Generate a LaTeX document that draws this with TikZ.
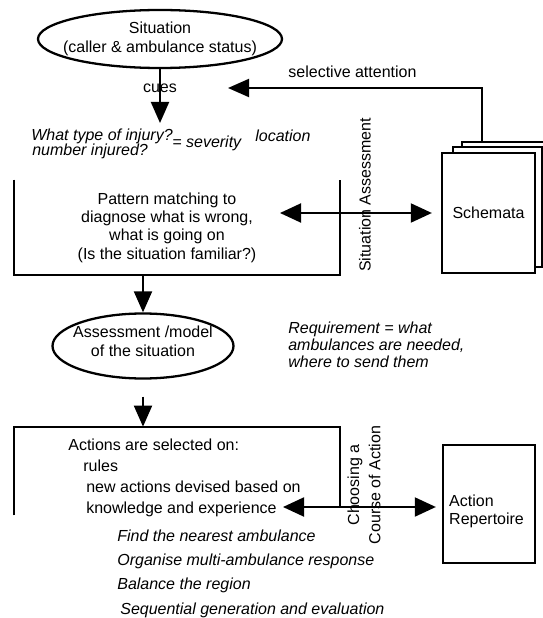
\documentclass[tikz,border=0pt]{standalone}
\usepackage{fontspec}
\setmainfont{Liberation Sans}
\usepackage{tikz}
\usetikzlibrary{arrows.meta,positioning,shapes.geometric,calc}

\begin{document}
\begin{tikzpicture}[
  font=\fontsize{9.1}{10.4}\selectfont,
  oval/.style={ellipse,draw,line width=1.3pt,inner sep=0pt},
  openbox/.style={rectangle,inner sep=0pt},
  page/.style={rectangle,draw,line width=1.3pt,fill=white,minimum width=1.86cm,minimum height=2.4cm},
  cue/.style={font=\fontsize{9.1}{9.6}\selectfont\itshape,anchor=west,align=left,inner sep=0pt},
  vlabel/.style={rotate=90,align=center,inner sep=0pt},
  edge/.style={line width=1.3pt},
  arrow/.style={-{Triangle[length=0.42cm,width=0.36cm]},line width=1.1pt},
  biarrow/.style={{Triangle[length=0.42cm,width=0.38cm]}-{Triangle[length=0.42cm,width=0.38cm]},line width=1.1pt}
]
\useasboundingbox (0,0) rectangle (10.86,-12.36);

% situation and cues
\node[oval,minimum width=4.88cm,minimum height=1.16cm,label={[align=center]center:Situation\\(caller \& ambulance status)}] (sit) at (3.2,-0.78) {};
\coordinate (cuetip) at (3.2,-2.46);
\draw[arrow] (sit.south) -- node[pos=0.36,inner sep=0pt] {cues} (cuetip);
\node[cue] (qtype) at (0.62,-2.72) {What type of injury?};
\node[cue] (qnum) at (0.64,-3.02) {number injured?};
\node[cue] (qsev) at (3.44,-2.86) {= severity};
\node[cue] (qloc) at (5.1,-2.72) {location};

% pattern matching
\node[openbox,minimum width=6.52cm,minimum height=1.9cm,label={[align=center,xshift=-0.2cm]center:Pattern matching to\\diagnose what is wrong,\\what is going on\\(Is the situation familiar?)}] (patt) at (3.54,-4.55) {};
\draw[edge] (patt.north west) |- (patt.south east) -- (patt.north east);

% schemata stack
\node[page,minimum width=1.76cm] (schc) at (10.12,-4.04) {};
\node[page,minimum width=1.78cm] (schb) at (9.95,-4.14) {};
\node[page] (sch) at (9.77,-4.26) {Schemata};
\coordinate (attncorner) at (9.64,-1.76);
\coordinate (attn) at (4.56,-1.76);
\draw[arrow] (schc.north -| attncorner) -- (attncorner) -- node[above=2pt,pos=0.51] {selective attention} (attn);
\coordinate (saend) at (5.6,-4.26);
\draw[biarrow,shorten >=0.18cm] (saend) -- (sch.west);
\node[vlabel] (salab) at (7.3,-3.9) {Situation Assessment};

% assessment
\node[oval,minimum width=3.62cm,minimum height=1.3cm,label={[align=center,yshift=0.1cm,font=\fontsize{9.1}{11}\selectfont]center:Assessment /model\\of the situation}] (assess) at (2.86,-6.92) {};
\draw[arrow] (patt.south -| assess.north) -- (assess.north);
\node[cue] (req) at (5.76,-6.9) {Requirement = what\\ambulances are needed,\\where to send them};

% choosing a course of action
\node[openbox,minimum width=6.52cm,minimum height=1.76cm] (act) at (3.54,-9.42) {};
\draw[arrow,shorten <=0.34cm] (assess.south) -- (act.north -| assess.south);
\node[anchor=north west,align=left,inner sep=0pt,font=\fontsize{9.1}{11.9}\selectfont] (acttxt) at (1.36,-8.77) {Actions are selected on:\\\hspace*{0.3cm}rules\\\hspace*{0.36cm}new actions devised based on\\\hspace*{0.36cm}knowledge and experience};
\node[cue,anchor=north west,font=\fontsize{9.1}{13.8}\selectfont\itshape] (strat) at (2.34,-10.59) {Find the nearest ambulance\\Organise multi-ambulance response\\Balance the region\\\hspace*{0.06cm}Sequential generation and evaluation};

\node[rectangle,draw,edge,minimum width=1.84cm,minimum height=2.36cm] (rep) at (9.78,-10.08) {};
\node[anchor=west,align=left,inner sep=0pt] (reptxt) at ($(rep.west)+(0.14,-0.14)$) {Action\\Repertoire};
\coordinate (coaend) at (5.66,-10.14);
\draw[edge] (act.south west) |- (act.north east) -- (act.east |- coaend);
\draw[biarrow,shorten >=0.12cm] (coaend) -- (rep.west |- coaend);
\node[vlabel,font=\fontsize{9.1}{12}\selectfont] (coalab) at (7.28,-9.7) {Choosing a\\Course of Action};
\end{tikzpicture}
\end{document}
